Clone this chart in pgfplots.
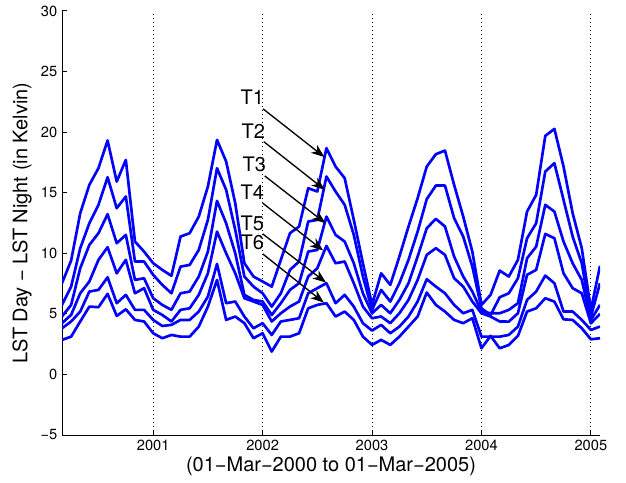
\documentclass[border=0pt]{standalone}
\usepackage{fontspec}
\setmainfont{TeX Gyre Heros}
\usepackage{pgfplots}
\usepackage{pgfplotstable}
\pgfplotsset{compat=1.18}
\usetikzlibrary{arrows.meta}

% months since Jan 2000 (m=2 is Mar 2000), six series T1..T6
\pgfplotstableread{
m T1 T2 T3 T4 T5 T6
2 7.53 5.74 4.78 4.23 3.81 2.85
3 9.40 7.25 5.74 4.91 4.37 3.12
4 13.31 10.42 8.77 6.70 5.19 4.37
5 15.65 12.48 10.69 7.67 6.84 5.60
6 17.03 14.00 11.66 9.46 6.98 5.55
7 19.31 16.28 13.23 10.50 8.02 6.65
8 15.92 13.72 10.83 8.35 5.88 4.83
9 17.71 14.69 11.52 9.46 6.57 5.38
10 10.97 9.32 7.80 6.70 5.33 4.50
11 10.14 9.32 7.94 7.12 5.33 4.37
12 9.18 8.22 6.29 5.33 4.50 3.40
13 8.63 7.39 5.74 4.91 4.00 2.99
14 8.14 6.70 5.33 4.37 4.09 3.26
15 11.38 8.90 6.70 5.33 4.50 3.12
16 11.66 9.04 6.84 5.46 4.50 3.12
17 13.03 10.28 8.08 6.57 5.19 3.95
18 15.51 12.76 10.14 8.35 6.43 5.60
19 19.36 17.02 14.33 11.79 9.12 7.80
20 17.58 15.24 12.48 10.00 5.88 4.50
21 14.13 11.93 10.00 8.35 6.02 4.78
22 9.18 8.08 6.57 6.29 4.78 4.23
23 8.08 7.25 6.15 6.02 3.81 2.99
24 7.67 6.70 6.02 5.74 4.23 3.40
25 7.25 5.60 4.91 4.37 3.26 1.89
26 9.46 6.70 5.88 5.05 4.37 3.12
27 11.66 8.63 6.98 5.60 4.50 3.12
28 12.21 9.32 7.53 6.02 4.64 3.40
29 15.37 12.62 10.14 8.08 6.70 5.46
30 15.10 12.76 10.28 8.77 7.12 5.74
31 18.68 16.34 13.03 10.61 7.53 5.88
32 17.16 15.10 11.52 9.18 5.88 4.78
33 16.20 14.00 10.97 9.32 6.57 5.19
34 12.76 11.52 9.18 7.53 5.60 4.50
35 9.18 8.08 6.70 5.60 4.23 3.12
36 5.74 5.33 5.05 4.64 3.62 2.44
37 8.35 6.98 5.74 4.78 4.09 2.85
38 7.39 6.02 5.05 4.23 3.40 2.44
39 9.73 7.53 6.15 5.05 3.95 3.12
40 12.21 9.46 7.53 6.15 4.78 3.95
41 14.55 11.79 9.73 7.80 6.02 4.78
42 17.16 14.47 12.07 9.87 7.86 6.76
43 18.18 15.59 12.84 10.42 7.25 5.74
44 18.48 15.59 12.21 9.87 6.70 5.19
45 15.65 12.90 9.73 7.94 5.74 4.50
46 13.03 11.38 8.08 7.25 5.05 4.23
47 10.14 8.90 6.84 6.02 5.33 4.64
48 5.74 5.46 5.19 5.05 3.12 2.16
49 6.57 4.90 5.05 4.78 3.12 3.18
50 8.57 6.37 5.05 4.37 3.12 2.16
51 8.08 6.70 5.33 4.36 3.26 2.43
52 9.46 7.94 5.88 5.05 3.95 3.18
53 13.44 11.24 9.59 8.22 6.15 5.19
54 14.82 12.48 10.55 8.63 6.84 5.46
55 19.69 16.75 14.00 11.60 8.16 6.29
56 20.27 17.44 13.44 11.24 7.53 6.01
57 17.16 14.41 10.97 8.35 5.19 4.55
58 13.31 11.38 9.18 7.12 5.19 4.50
59 10.42 9.18 7.80 6.70 4.50 3.81
60 5.33 4.77 4.50 4.22 3.67 2.90
61 8.96 7.53 5.74 5.00 3.95 2.99
}\lstdata

\begin{document}
\begin{tikzpicture}
  \begin{axis}[
    scale only axis, width=403.5pt, height=318pt,
    xmin=2, xmax=61, ymin=-5, ymax=30,
    axis x line*=bottom, axis y line*=left,
    xtick={12,24,36,48,60}, xticklabels={2001,2002,2003,2004,2005},
    ytick={-5,0,5,10,15,20,25,30}, yticklabels={−5,0,5,10,15,20,25,30},
    tick align=inside, major tick length=3.75pt,
    tick style={black, line width=0.75pt},
    axis line style={line width=0.75pt},
    xmajorgrids, grid style={black, line width=0.75pt, dash pattern=on 0.75pt off 2.25pt},
    ticklabel style={font=\fontsize{11}{13}\selectfont},
    xlabel={(01−Mar−2000 to 01−Mar−2005)},
    ylabel={LST Day − LST Night (in Kelvin)},
    label style={font=\fontsize{15}{18}\selectfont},
    xlabel style={at={(axis description cs:0.5,-0.0731)}, anchor=center},
    ylabel style={at={(axis description cs:-0.0744,0.5)}, anchor=center},
    tline/.style={blue, line width=2pt, line join=round, mark=none},
  ]
    \addplot[tline] table[x=m, y=T1] {\lstdata};
    \addplot[tline] table[x=m, y=T2] {\lstdata};
    \addplot[tline] table[x=m, y=T3] {\lstdata};
    \addplot[tline] table[x=m, y=T4] {\lstdata};
    \addplot[tline] table[x=m, y=T5] {\lstdata};
    \addplot[tline] table[x=m, y=T6] {\lstdata};

    \begin{scope}[font=\fontsize{15}{18}\selectfont]
      \node at (axis cs:22.87,22.91) {T1};
      \node at (axis cs:22.98,20.10) {T2};
      \node at (axis cs:23.09,17.30) {T3};
      \node at (axis cs:22.87,15.07) {T4};
      \node at (axis cs:22.87,12.43) {T5};
      \node at (axis cs:22.87,10.94) {T6};
    \end{scope}
    \begin{scope}[black, line width=1pt, -{Stealth[length=10pt, width=7.5pt, inset=3pt]}]
      \draw (axis cs:24.05,21.92) -- (axis cs:30.78,17.94);
      \draw (axis cs:24.12,19.22) -- (axis cs:30.82,15.24);
      \draw (axis cs:24.23,16.39) -- (axis cs:30.89,12.48);
      \draw (axis cs:24.01,14.14) -- (axis cs:30.64,10.23);
      \draw (axis cs:24.01,11.60) -- (axis cs:30.96,7.58);
      \draw (axis cs:24.01,9.95) -- (axis cs:30.72,5.93);
    \end{scope}
  \end{axis}
  \path ([shift={(-46.5pt,-35.25pt)}]current axis.south west)
    rectangle ([shift={(19.5pt,8.25pt)}]current axis.north east);
\end{tikzpicture}
\end{document}
